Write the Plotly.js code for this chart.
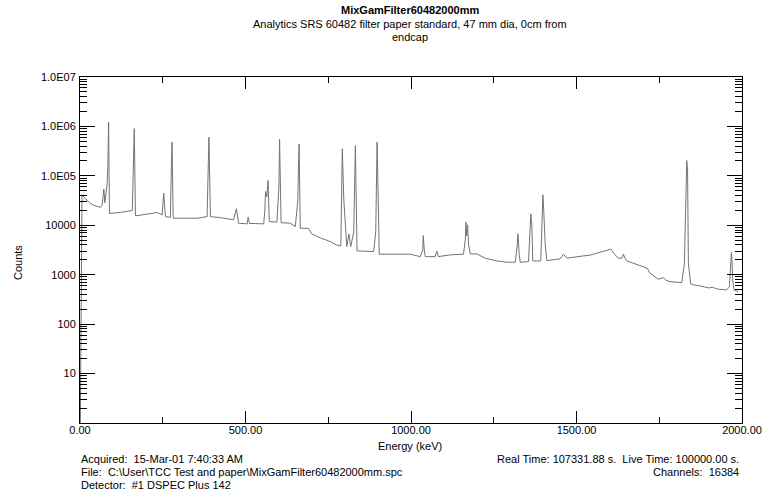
<!DOCTYPE html>
<html>
<head>
<meta charset="utf-8">
<script src="https://cdn.plot.ly/plotly-3.0.1.min.js"></script>
<style>html,body{margin:0;padding:0;background:#fff;}#chart{width:764px;height:491px;}</style>
</head>
<body>
<div id="chart"></div>
<script>
// Spectrum (energy in keV, counts)
const energy = [1,3,6,17,29,42,62,67,72,75,81.5,84,86.5,89,122,158,162,164,167.5,198,233,248,253,258,273,276,278,281.5,354,384,387,389.5,394,424,464,469.5,472.5,477,479,505,508,512,555,558.5,560.5,564.5,568,572,595,601,603,607.5,635.5,650.5,658,660.5,662,665.5,690.5,700,726,756.5,774,788,791,792.5,797,803,806,812.5,818,827,830,832,835,837,887,893.5,896,897.5,901,904,998,1028,1035.5,1037,1040,1043,1073,1078,1083,1118.5,1158.5,1164,1166,1168,1171,1174,1179,1199,1224,1259.5,1290,1315,1321,1323,1327,1330,1355,1359,1362,1365,1368,1392,1395.5,1398.5,1401,1405.5,1410.5,1450.5,1460.5,1471,1490,1505,1521,1540,1561.5,1591.5,1603.5,1616.5,1626.5,1637,1641.5,1650,1672,1697,1714,1722,1747,1762.5,1770.5,1782.5,1818,1826,1831,1833,1835.5,1838,1845,1855,1870,1883,1900,1910,1924,1940,1954,1962,1965.5,1968,1970,1972,1976,1988];
const counts = [1,30,41200,34200,28400,25300,23000,25900,53800,28400,65800,145000,1220000,17400,18200,20000,154000,906000,15500,16600,18100,16200,44700,15000,14500,154000,481000,13900,13900,15000,83000,607000,15000,14300,12900,17800,21500,14100,11000,10700,14600,10900,10700,20500,48100,37600,81100,11900,11600,60700,553000,11300,11000,9420,32700,211000,438000,8730,8650,6700,5560,4680,4010,3830,38100,352000,32700,4830,3710,6610,3710,7350,83000,410000,20500,3030,2940,7350,105000,481000,32700,2600,2600,2320,3180,6190,3180,2320,2320,2990,2320,2520,2600,5060,11600,6100,10200,4010,2640,2640,2160,1900,1790,1790,4010,6700,2520,1790,1840,5060,17000,10200,1900,1900,8070,41200,20500,4010,1930,2090,2600,2160,2250,2350,2400,2480,2720,3070,3280,2520,2160,2160,2600,1930,1710,1460,1350,1070,811,874,767,725,692,1710,32700,204000,132000,1710,651,620,600,574,540,560,516,500,492,574,1580,2800,1820,785,492,449];

const xRange = [0, 2000];
const yLogRange = [0, 7];
const xTickVals = [0,500,1000,1500,2000];
const xTickText = ['0.00','500.00','1000.00','1500.00','2000.00'];
const xMinorVals = [250,750,1250,1750];
const yTickVals = [10,100,1000,10000,100000,1000000,10000000];
const yTickText = ['10','100','1000','10000','1.0E05','1.0E06','1.0E07'];
const yMinorMult = [2,3,4,5,6,7,8,9];
const yDecades = [1,10,100,1000,10000,100000,1000000];
const yMinorVals = [];
yDecades.forEach(d=>{yMinorMult.forEach(m=>yMinorVals.push(m*d));});

const titleText = 'MixGamFilter60482000mm';
const subtitle1 = 'Analytics SRS 60482 filter paper standard, 47 mm dia, 0cm from';
const subtitle2 = 'endcap';
const xTitle = 'Energy (keV)';
const yTitle = 'Counts';
const infoLeft = ['Acquired:\u00a0 15-Mar-01 7:40:33 AM',
                  'File:\u00a0 C:\\User\\TCC Test and paper\\MixGamFilter60482000mm.spc',
                  'Detector:\u00a0 #1 DSPEC Plus 142'];
const infoRight = ['Real Time: 107331.88 s.\u00a0 Live Time: 100000.00 s.',
                   'Channels:\u00a0 16384'];

const F = 'Liberation Sans, Arial, sans-serif';
const font = {family: F, size: 11, color: '#000'};

// plot area in pixels: x 80..742, y 77..423
const M = {l: 80, r: 22, t: 77, b: 68};
const W = 764, H = 491;
const PW = W - M.l - M.r, PH = H - M.t - M.b;
const px = v => (v - M.l) / PW;
const py = v => (H - M.b - v) / PH;

const ann = [];
function A(text, x, y, xa, extra){
  ann.push(Object.assign({text: text, xref:'paper', yref:'paper', x: x, y: y, xanchor: xa, yanchor:'middle', showarrow:false, font: font}, extra||{}));
}
A('<b>'+titleText+'</b>', px(410), py(10), 'center');
A(subtitle1, px(410), py(23.5), 'center');
A(subtitle2, px(410), py(36.5), 'center');
A(xTitle, px(410), py(445.5), 'center');
A(yTitle, px(18), py(263), 'center', {textangle: -90});
A(infoLeft[0], px(79), py(459), 'left');
A(infoLeft[1], px(79), py(472), 'left');
A(infoLeft[2], px(79), py(485), 'left');
A(infoRight[0], px(741), py(459), 'right');
A(infoRight[1], px(741), py(472), 'right');

const data = [
  {x: energy, y: counts, type: 'scatter', mode: 'lines',
   line: {color: '#737373', width: 1}, hoverinfo: 'skip'}
];

const axBase = {showgrid: false, zeroline: false, showline: true, linecolor: '#000', linewidth: 1,
                mirror: 'ticks', ticks: 'inside', tickwidth: 1, tickcolor: '#000', tickmode: 'array', tickfont: font};

const layout = {
  width: W, height: H,
  margin: M,
  paper_bgcolor: '#fff', plot_bgcolor: '#fff',
  showlegend: false,
  font: font,
  xaxis: Object.assign({}, axBase, {
    range: xRange, tickvals: xTickVals, ticktext: xTickText, ticklen: 12, ticklabelstandoff: -3,
    minor: {tickmode: 'array', tickvals: xMinorVals, ticks: 'inside', ticklen: 6, tickwidth: 1, tickcolor: '#000', showgrid: false}
  }),
  yaxis: Object.assign({}, axBase, {
    type: 'log', range: yLogRange, tickvals: yTickVals, ticktext: yTickText, ticklen: 15, ticklabelstandoff: 1,
    minor: {tickmode: 'array', tickvals: yMinorVals, ticks: 'inside', ticklen: 7, tickwidth: 1, tickcolor: '#000', showgrid: false}
  }),
  annotations: ann
};

Plotly.newPlot('chart', data, layout, {displayModeBar: false, staticPlot: true});
</script>
</body>
</html>
